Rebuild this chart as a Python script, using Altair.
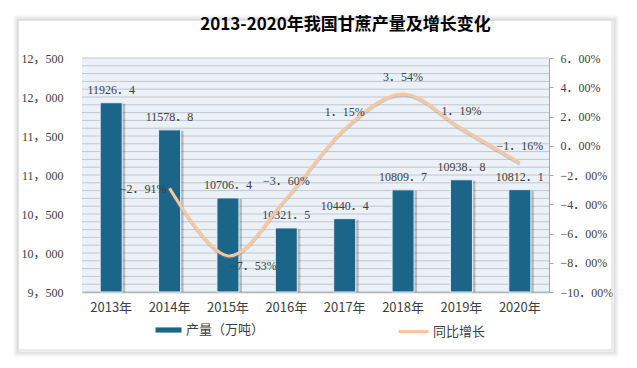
import altair as alt
import pandas as pd

# ---- data ----
years = ["2013年", "2014年", "2015年", "2016年", "2017年", "2018年", "2019年", "2020年"]
production = [11926.4, 11578.8, 10706.4, 10321.5, 10440.4, 10809.7, 10938.8, 10812.1]
growth = [None, -0.0291, -0.0753, -0.0360, 0.0115, 0.0354, 0.0119, -0.0116]
left_ticks = [9500, 10000, 10500, 11000, 11500, 12000, 12500]
right_ticks = [-0.10, -0.08, -0.06, -0.04, -0.02, 0.0, 0.02, 0.04, 0.06]
grid_values = list(range(9500, 12501, 100))
bar_series = "产量（万吨）"
line_series = "同比增长"
title_text = "2013-2020年我国甘蔗产量及增长变化"

W, H = 467, 234
SERIF = "Liberation Serif, Noto Sans CJK SC"
SANS = "Noto Sans CJK SC"
TXT = "#404040"
BAR = "#1B6688"
LINE = "#F8C7A0"

df = pd.DataFrame({"year": years, "production": production, "growth": growth})
grid_df = pd.DataFrame({"g": grid_values})
one = alt.Data(values=[{"k": 1}])

xscale = alt.Scale(domain=years, paddingInner=0, paddingOuter=0)
lscale = alt.Scale(domain=[left_ticks[0], left_ticks[-1]], zero=False, nice=False)
rscale = alt.Scale(domain=[right_ticks[0], right_ticks[-1]], zero=False, nice=False)

x_axis = alt.Axis(
    labelAngle=0, labelFont=SANS, labelFontSize=13, labelColor=TXT,
    labelPadding=9, ticks=False, domainColor="#A6A6A6", domainWidth=1.5,
)
x_enc = alt.X("year:N", sort=years, scale=xscale, title=None, axis=x_axis)


def deco_frame(x, x2, y, y2, **kw):
    return alt.Chart(one).mark_rect(fill="transparent", **kw).encode(
        x=alt.value(x), x2=alt.value(x2), y=alt.value(y), y2=alt.value(y2)
    )


# card outline with a soft shadow (stroked frames only, nothing filled)
shadows = [
    deco_frame(-64 - i + 1, 530 + i + 1, -38 - i + 1, 292 + i + 1,
               stroke="black", strokeWidth=1, strokeOpacity=0.16 - 0.025 * i)
    for i in range(1, 7)
]
card = deco_frame(-64, 530, -38, 292, stroke="#D8D8D8", strokeWidth=1)

grid = alt.Chart(grid_df).mark_rule(color="#C3C6CA", strokeWidth=1).encode(
    y=alt.Y("g:Q", scale=lscale, axis=None)
)

base_df = alt.Chart(df).transform_calculate(base=str(left_ticks[0]))

bar_shadow = base_df.mark_bar(size=22, xOffset=3, yOffset=1, color="black", opacity=0.22).encode(
    x=x_enc,
    y=alt.Y("production:Q", scale=lscale, axis=None),
    y2="base:Q",
)

bars = base_df.transform_calculate(series=f"'{bar_series}'").mark_bar(
    size=22, stroke="#E6EEF5", strokeWidth=1
).encode(
    x=x_enc,
    y=alt.Y(
        "production:Q", scale=lscale, title=None,
        axis=alt.Axis(
            orient="left", values=left_ticks, grid=False, domain=False, ticks=False,
            labelFont=SERIF, labelFontSize=12, labelColor=TXT, labelPadding=19,
            labelExpr="replace(format(datum.value, ','), ',', '，')",
        ),
    ),
    y2="base:Q",
    color=alt.Color(
        "series:N", scale=alt.Scale(domain=[bar_series], range=[BAR]),
        legend=alt.Legend(
            orient="none", legendX=73.5, legendY=259, title=None, padding=0,
            symbolType="M-1,-0.2L1,-0.2L1,0.2L-1,0.2Z", symbolSize=676,
            symbolFillColor=BAR, symbolStrokeWidth=0,
            labelFont=SANS, labelFontSize=13, labelColor=TXT, labelOffset=4.5,
        ),
    ),
)

bar_labels = alt.Chart(df).transform_calculate(
    plabel="replace(format(datum.production, '.1f'), '.', '．')"
).mark_text(dy=-13, font=SERIF, fontSize=12, color=TXT, baseline="middle").encode(
    x=x_enc,
    y=alt.Y("production:Q", scale=lscale, axis=None),
    text="plabel:N",
)

line_df = alt.Chart(df).transform_filter("isValid(datum.growth)")

line_shadow = line_df.mark_line(
    interpolate="cardinal", strokeWidth=3, color="#8a8a8a", opacity=0.35, yOffset=1.5
).encode(
    x=x_enc, y=alt.Y("growth:Q", scale=rscale, axis=None)
)

line = line_df.transform_calculate(series2=f"'{line_series}'").mark_line(
    interpolate="cardinal", strokeWidth=3
).encode(
    x=x_enc,
    y=alt.Y(
        "growth:Q", scale=rscale, title=None,
        axis=alt.Axis(
            orient="right", values=right_ticks, grid=False, domainColor="#A6A6A6",
            tickColor="#A6A6A6", tickSize=4, labelFont=SERIF, labelFontSize=12,
            labelColor=TXT, labelPadding=7,
            labelExpr="replace(format(datum.value, '.2%'), '.', '．')",
        ),
    ),
    stroke=alt.Stroke(
        "series2:N", scale=alt.Scale(domain=[line_series], range=[LINE]),
        legend=alt.Legend(
            orient="none", legendX=315, legendY=257, title=None, padding=0,
            symbolType="stroke", symbolSize=900, symbolStrokeWidth=3,
            labelFont=SANS, labelFontSize=13, labelColor=TXT, labelOffset=3,
        ),
    ),
)

glabel = "replace(format(datum.growth, '.2%'), '.', '．')"


def growth_text(filter_expr, **kw):
    return line_df.transform_filter(filter_expr).transform_calculate(glabel=glabel).mark_text(
        font=SERIF, fontSize=12, color=TXT, **kw
    ).encode(
        x=x_enc,
        y=alt.Y("growth:Q", scale=rscale, axis=None),
        text="glabel:N",
    )


t_left = growth_text("datum.year == '2014年'", align="right", baseline="middle", dx=-3, dy=1)
t_below = growth_text("datum.year == '2015年'", align="left", baseline="middle", dx=2, dy=10)
t_above = growth_text(
    "datum.year != '2014年' && datum.year != '2015年'", align="center", baseline="middle", dy=-17
)

chart = alt.layer(
    *shadows, card, grid, bar_shadow, bars, bar_labels,
    line_shadow, line, t_left, t_below, t_above,
).resolve_scale(
    y="independent"
).properties(
    width=W,
    height=H,
    background="white",
    padding={"left": 74, "top": 50, "right": 80, "bottom": 68},
    autosize=alt.AutoSizeParams(type="none"),
    title=alt.TitleParams(
        title_text, font=SANS, fontSize=17, fontWeight="bold", color="black",
        anchor="middle", baseline="middle", dx=30, dy=27, offset=0, frame="group",
    ),
).configure_view(stroke=None, fill="#EAF1F8")

chart.save("out.html", embed_options={"renderer": "svg", "actions": False})
